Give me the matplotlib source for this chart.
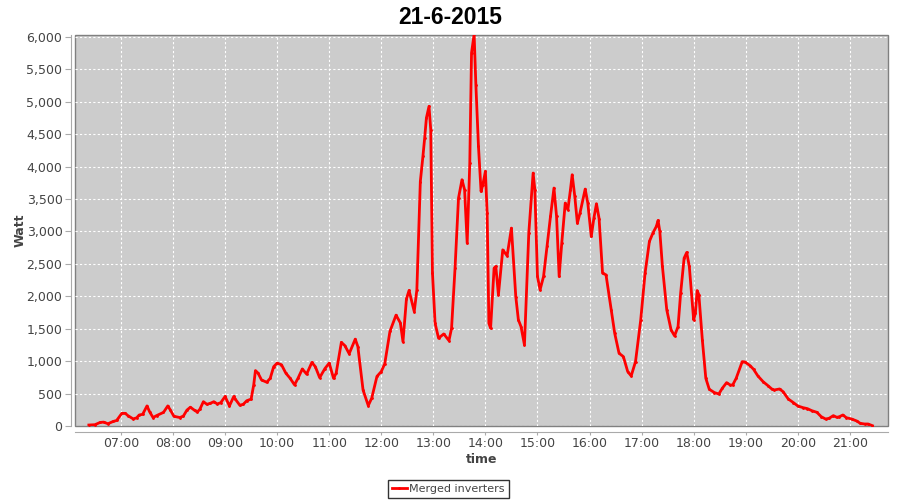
import matplotlib
matplotlib.use("Agg")
import matplotlib.pyplot as plt
import matplotlib.dates as mdates
from matplotlib.ticker import FuncFormatter, MultipleLocator
import pandas as pd

day = "2015-06-21"
times = [
    "06:23", "06:30", "06:36", "06:40", "06:45", "06:51", "06:55", "07:01", "07:05", "07:08",
    "07:14", "07:18", "07:21", "07:25", "07:30", "07:33", "07:37", "07:41", "07:49", "07:54",
    "07:57", "08:01", "08:08", "08:12", "08:16", "08:20", "08:25", "08:28", "08:31", "08:35",
    "08:39", "08:43", "08:47", "08:51", "08:55", "09:00", "09:05", "09:10", "09:12", "09:17",
    "09:21", "09:25", "09:30", "09:33", "09:35", "09:38", "09:42", "09:48", "09:52", "09:56",
    "10:00", "10:05", "10:10", "10:15", "10:20", "10:24", "10:29", "10:34", "10:40", "10:44",
    "10:49", "10:55", "11:00", "11:05", "11:08", "11:14", "11:18", "11:23", "11:30", "11:33",
    "11:39", "11:45", "11:49", "11:55", "12:00", "12:04", "12:10", "12:17", "12:22", "12:25",
    "12:29", "12:32", "12:38", "12:41", "12:45", "12:48", "12:50", "12:52", "12:55", "12:57",
    "12:59", "13:02", "13:06", "13:12", "13:18", "13:21", "13:25", "13:29", "13:33", "13:36",
    "13:39", "13:42", "13:44", "13:47", "13:49", "13:52", "13:55", "13:57", "14:00", "14:02",
    "14:04", "14:06", "14:10", "14:12", "14:15", "14:20", "14:25", "14:30", "14:35", "14:38",
    "14:41", "14:45", "14:50", "14:55", "14:57", "15:00", "15:03", "15:07", "15:11", "15:15",
    "15:19", "15:22", "15:25", "15:28", "15:32", "15:35", "15:38", "15:40", "15:43", "15:46",
    "15:49", "15:55", "15:58", "16:02", "16:05", "16:08", "16:11", "16:15", "16:19", "16:25",
    "16:29", "16:34", "16:39", "16:44", "16:48", "16:53", "16:59", "17:04", "17:09", "17:13",
    "17:17", "17:19", "17:21", "17:24", "17:29", "17:34", "17:38", "17:42", "17:45", "17:49",
    "17:52", "17:55", "18:00", "18:02", "18:04", "18:06", "18:10", "18:14", "18:18", "18:24",
    "18:29", "18:33", "18:38", "18:42", "18:45", "18:49", "18:56", "18:59", "19:05", "19:09",
    "19:14", "19:20", "19:26", "19:30", "19:33", "19:39", "19:43", "19:49", "19:55", "20:00",
    "20:06", "20:11", "20:16", "20:22", "20:27", "20:32", "20:36", "20:41", "20:45", "20:48",
    "20:52", "20:56", "21:02", "21:08", "21:12", "21:17", "21:21", "21:26",
]
watt = [
    15, 20, 55, 60, 35, 70, 85, 195, 195, 160,
    110, 125, 170, 180, 310, 220, 130, 160, 210, 310,
    245, 150, 130, 155, 245, 290, 240, 215, 260, 375,
    335, 350, 375, 340, 360, 455, 310, 455, 410, 320,
    335, 390, 415, 635, 855, 815, 710, 675, 735, 915,
    970, 945, 815, 735, 635, 735, 880, 800, 980, 915,
    745, 885, 970, 735, 815, 1290, 1240, 1115, 1340, 1225,
    555, 315, 430, 765, 840, 960, 1460, 1710, 1590, 1300,
    1960, 2090, 1765, 2100, 3770, 4160, 4440, 4750, 4930, 4570,
    2360, 1585, 1354, 1420, 1317, 1508, 2434, 3515, 3798, 3644,
    2820, 4056, 5754, 6040, 5265, 4313, 3618, 3721, 3927, 3284,
    1585, 1508, 2434, 2460, 2023, 2717, 2625, 3052, 1997, 1637,
    1534, 1251, 2975, 3901, 3644, 2306, 2100, 2306, 2769, 3232,
    3670, 3232, 2306, 2821, 3438, 3335, 3644, 3875, 3541, 3129,
    3284, 3654, 3438, 2923, 3206, 3428, 3200, 2357, 2331, 1791,
    1431, 1122, 1070, 839, 772, 993, 1637, 2357, 2846, 2975,
    3078, 3170, 3000, 2460, 1791, 1482, 1390, 1534, 2048, 2589,
    2676, 2460, 1637, 1740, 2089, 2023, 1328, 736, 566, 515,
    494, 582, 669, 633, 633, 736, 993, 988, 931, 875,
    772, 684, 618, 571, 556, 571, 530, 417, 360, 309,
    283, 268, 237, 211, 144, 108, 118, 160, 134, 144,
    170, 128, 108, 77, 41, 31, 31, 5,
]

x = pd.to_datetime([day + " " + t for t in times])

fig = plt.figure(figsize=(9, 5), dpi=100)
ax = fig.add_axes([0.0833, 0.148, 0.9034, 0.782])

ax.set_facecolor("#cccccc")
ax.patch.set_edgecolor("#808080")
ax.patch.set_linewidth(1.0)

ax.plot(x, watt, color="#ff0000", linewidth=2, marker=".", markersize=2,
        label="Merged inverters", zorder=3)

ax.set_xlim(pd.Timestamp(day + " 06:07"), pd.Timestamp(day + " 21:44"))
ax.set_ylim(0, 6030)
ax.yaxis.set_major_locator(MultipleLocator(500))
ax.yaxis.set_major_formatter(FuncFormatter(lambda v, p: f"{int(v):,}"))
ax.xaxis.set_major_locator(mdates.HourLocator())
ax.xaxis.set_major_formatter(mdates.DateFormatter("%H:%M"))

ax.grid(True, color="white", linestyle=(0, (2, 2)), linewidth=0.8, zorder=1)
ax.set_axisbelow(True)

for s in ["top", "right"]:
    ax.spines[s].set_visible(False)
ax.spines["left"].set_position(("outward", 3))
ax.spines["bottom"].set_position(("outward", 4))
ax.spines["left"].set_color("#aaaaaa")
ax.spines["bottom"].set_color("#aaaaaa")

ax.tick_params(axis="both", colors="#aaaaaa", labelcolor="#444444",
               labelsize=9, direction="out")
ax.tick_params(axis="x", length=2, pad=2)
ax.tick_params(axis="y", length=4, pad=2)

ax.set_xlabel("time", fontsize=9, fontweight="bold", color="#444444", labelpad=2)
ax.set_ylabel("Watt", fontsize=9, fontweight="bold", color="#444444", labelpad=0)
fig.suptitle("21-6-2015", fontsize=16.5, fontweight="bold", x=0.5, y=0.988,
             family="Liberation Sans")

leg = fig.legend(loc="lower center", bbox_to_anchor=(0.498, 0.004), fontsize=8,
                 frameon=True, fancybox=False, handlelength=1.4, borderpad=0.35,
                 handletextpad=0.2, borderaxespad=0)
leg.get_frame().set_edgecolor("black")
leg.get_frame().set_linewidth(1.0)
for t in leg.get_texts():
    t.set_color("#444444")

fig.savefig("out.png", dpi=100)
